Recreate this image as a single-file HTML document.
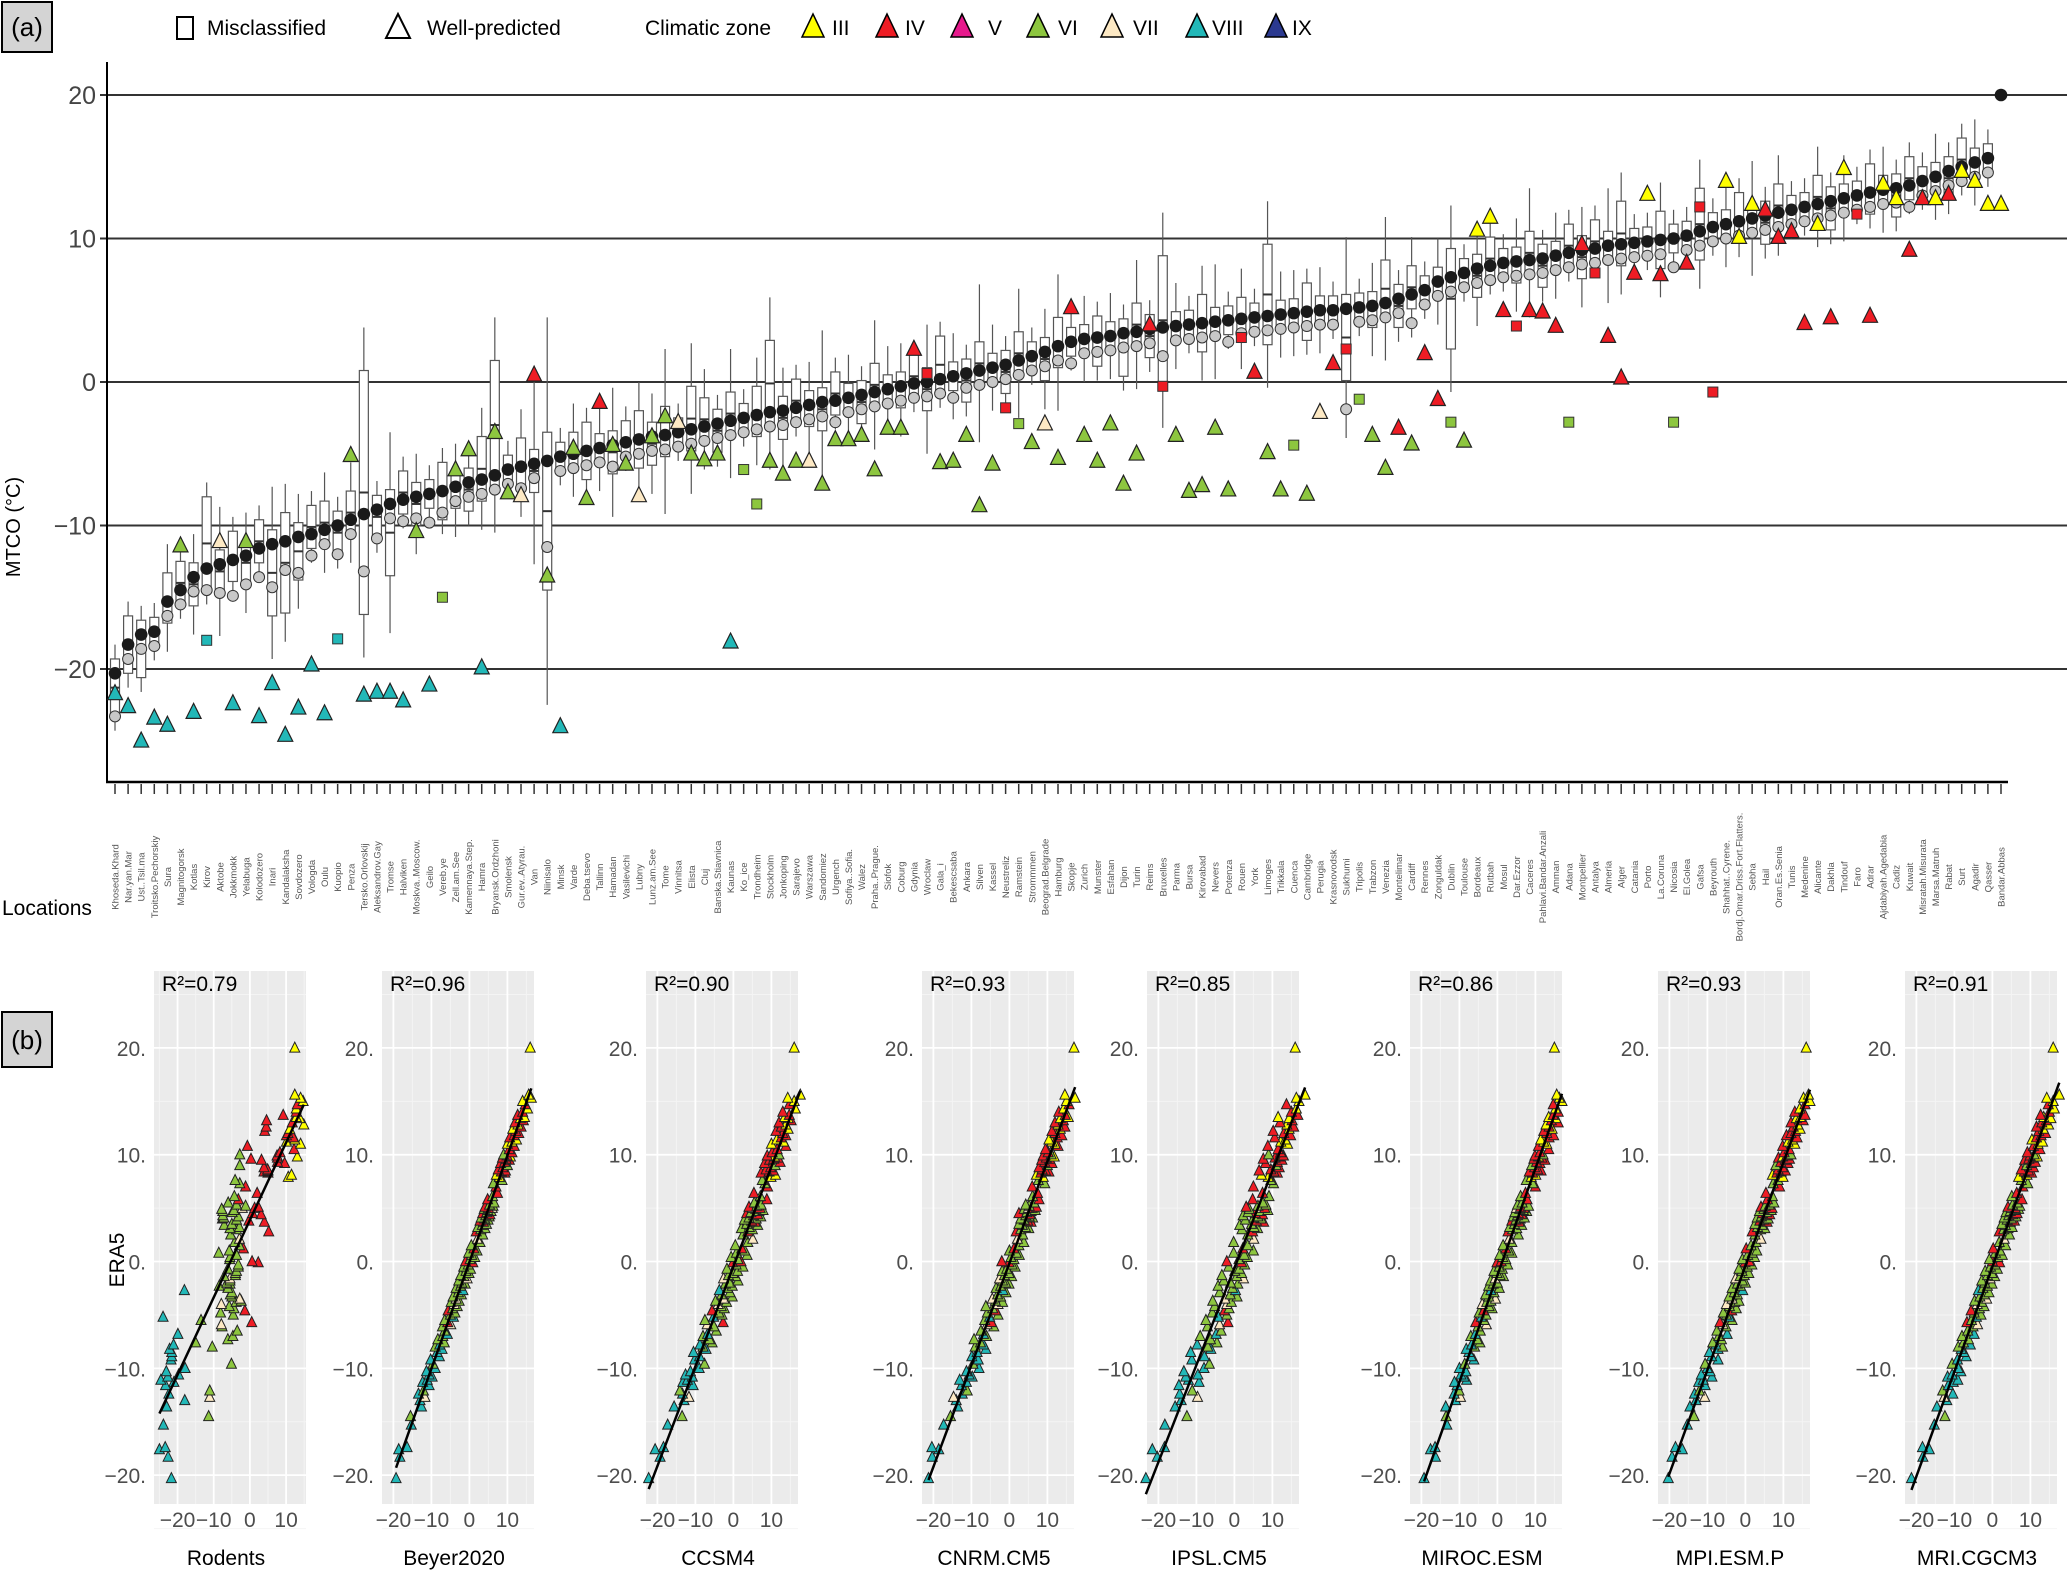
<!DOCTYPE html>
<html><head><meta charset="utf-8"><title>MTCO chart</title>
<style>
html,body{margin:0;padding:0;background:#fff;}
svg{display:block;font-family:"Liberation Sans",sans-serif;}
</style></head>
<body>
<svg id="chart" xmlns="http://www.w3.org/2000/svg" width="2067" height="1575" viewBox="0 0 2067 1575">
<rect x="0" y="0" width="2067" height="1575" fill="#fff"/>
<!-- panel a label box -->
<rect x="2" y="2" width="50" height="50" fill="#d4d4d4" stroke="#000" stroke-width="2"/>
<text x="27" y="36" font-size="26" text-anchor="middle">(a)</text>
<!-- legend -->
<g>
<rect x="177" y="17" width="16" height="22" fill="#fff" stroke="#000" stroke-width="2"/>
<text x="207" y="35" font-size="21">Misclassified</text>
<polygon points="398,14 386,38 410,38" fill="#fff" stroke="#000" stroke-width="2"/>
<text x="427" y="35" font-size="21">Well-predicted</text>
<text x="645" y="35" font-size="21">Climatic zone</text>
<polygon points="813,14 802,37 824,37" fill="#ffff00" stroke="#000" stroke-width="1.5"/>
<text x="832" y="35" font-size="21">III</text>
<polygon points="887,14 876,37 898,37" fill="#ee1c24" stroke="#000" stroke-width="1.5"/>
<text x="905" y="35" font-size="21">IV</text>
<polygon points="962,14 951,37 973,37" fill="#e6198c" stroke="#000" stroke-width="1.5"/>
<text x="988" y="35" font-size="21">V</text>
<polygon points="1038,14 1027,37 1049,37" fill="#8dc63f" stroke="#000" stroke-width="1.5"/>
<text x="1058" y="35" font-size="21">VI</text>
<polygon points="1112,14 1101,37 1123,37" fill="#fde9c4" stroke="#000" stroke-width="1.5"/>
<text x="1133" y="35" font-size="21">VII</text>
<polygon points="1197,14 1186,37 1208,37" fill="#22b8b8" stroke="#000" stroke-width="1.5"/>
<text x="1212" y="35" font-size="21">VIII</text>
<polygon points="1276,14 1265,37 1287,37" fill="#2b3990" stroke="#000" stroke-width="1.5"/>
<text x="1292" y="35" font-size="21">IX</text>
</g>
<text transform="translate(20,527) rotate(-90)" font-size="20" text-anchor="middle">MTCO (°C)</text>
<text x="2" y="915" font-size="21">Locations</text>
<!-- panel b label box -->
<rect x="2" y="1012" width="50" height="55" fill="#d4d4d4" stroke="#000" stroke-width="2"/>
<text x="27" y="1049" font-size="26" text-anchor="middle">(b)</text>
<text transform="translate(124,1260) rotate(-90)" font-size="21" text-anchor="middle">ERA5</text>
</svg>
<script>
// ---------- Panel (a) data ----------
const locations = ["Khoseda.Khard","Nar.yan.Mar","Ust..Tsil.ma","Troitsko.Pechorskiy","Sura","Magnitogorsk","Kotlas","Kirov","Aktobe","Jokkmokk","Yelabuga","Kolodozero","Inari","Kandalaksha","Sovdozero","Vologda","Oulu","Kuopio","Penza","Tersko.Orlovskij","Aleksandrov.Gay","Tromse","Halviken","Moskva..Moscow.","Geilo","Vereb.ye","Zell.am.See","Kamennaya.Step.","Hamra","Bryansk.Ordzhoni","Smolensk","Gur.ev..Atyrau.","Van","Niinisalo","Minsk","Varde","Deba.tsevo","Tallinn","Hamadan","Vasilevichi","Lubny","Lunz.am.See","Tome","Vinnitsa","Elista","Cluj","Banska.Stiavnica","Kaunas","Ko_ice","Trondheim","Stockholm","Jonkoping","Sarajevo","Warszawa","Sandomiez","Urgench","Sofiya..Sofia.","Walez","Praha..Prague.","Siofok","Coburg","Gdynia","Wroclaw","Gala_i","Bekescsaba","Ankara","Silven","Kassel","Neustreliz","Ramstein","Strommmen","Beograd.Belgrade","Hamburg","Skopje","Zurich","Munster","Esfahan","Dijon","Turin","Reims","Bruxelles","Parma","Bursa","Kirovabad","Nevers","Potenza","Rouen","York","Limoges","Trikkala","Cuenca","Cambridge","Perugia","Krasnovodsk","Sukhumi","Tripolis","Trabzon","Venezia","Montelimar","Cardiff","Rennes","Zonguldak","Dublin","Toulouse","Bordeaux","Rutbah","Mosul","Dar.Ezzor","Caceres","Pahlavi.Bandar.Anzali","Amman","Adana","Montpellier","Antalya","Almeria","Alger","Catania","Porto","La.Coruna","Nicosia","El.Golea","Gafsa","Beyrouth","Shahhat..Cyrene.","Bordj.Omar.Driss.Fort.Flatters.","Sebha","Hail","Oran.Es.Senia","Tunis","Medenine","Alicante","Dakhla","Tindouf","Faro","Adrar","Ajdabiyah.Agedabia","Cadiz","Kuwait","Misratah.Misurata","Marsa.Matruh","Rabat","Surt","Agadir","Qasser","Bandar.Abbas"];
const era5 = [-20.3,-18.3,-17.6,-17.4,-15.3,-14.5,-13.6,-13.0,-12.7,-12.4,-12.1,-11.6,-11.3,-11.1,-10.8,-10.6,-10.3,-10.0,-9.6,-9.2,-8.9,-8.5,-8.2,-8.0,-7.8,-7.6,-7.3,-7.0,-6.8,-6.5,-6.1,-5.9,-5.7,-5.5,-5.2,-5.0,-4.8,-4.6,-4.4,-4.2,-4.0,-3.8,-3.7,-3.5,-3.3,-3.1,-2.9,-2.7,-2.5,-2.3,-2.1,-2.0,-1.8,-1.6,-1.4,-1.3,-1.1,-0.9,-0.7,-0.5,-0.3,-0.1,0.0,0.2,0.4,0.6,0.8,1.0,1.2,1.5,1.8,2.1,2.5,2.8,3.0,3.1,3.2,3.4,3.5,3.7,3.8,3.9,4.0,4.1,4.2,4.3,4.4,4.5,4.6,4.7,4.8,4.9,5.0,5.0,5.1,5.2,5.3,5.5,5.8,6.1,6.4,7.0,7.3,7.6,7.9,8.1,8.3,8.4,8.5,8.6,8.8,9.0,9.2,9.3,9.5,9.6,9.7,9.8,9.9,10.0,10.2,10.5,10.8,11.0,11.2,11.4,11.6,11.8,12.0,12.2,12.4,12.6,12.8,13.0,13.2,13.4,13.5,13.7,14.0,14.3,14.7,15.0,15.3,15.6,20.0];
const boxBelow = [3,2,3,1,1.5,1,2,1.5,2,1.5, 2,1,5,5,3,1,1,2,1,7, 2,5,1,2,1,2,1.5,2,1.5,1, 1,1.5,2,9,1,1,2,1,2,1, 2,2,1.5,1,1.5,1,2,1,1,1.5, 1,2,1,1.5,2,1,1,2,1,1, 1.5,1,2,1,1,2,1,1,2,1, 1,2,1.5,1,1,2,1,3,1,2, 4,1,1,2,1,1,1.5,1,2,1, 1,2,1,1,5,1,1.5,1,2,1, 1,1,5,1,2,1,1,1.5,1,2, 1,1,2,1,1,1.5,1,1,2,1, 1,2,1,1,1.5,1,2,1,1,1, 1,2,1,1,1.5,1,2,1,1,1, 2,1,1,1,0];
const boxAbove = [1,2,1,1,2,2,1,5,1,2, 1,2,1,2,1,2,2,1,2,10, 1,1,2,1,1,2,1,1,3,8, 1,2,1,2,1,1.5,2,1,1,1.5, 2,1,2,1,3,2,1,2,1,2, 5,1,2,1,1,2,1,1,2,1, 1,2,1,3,1,1,2,1,1,2, 1,1,2,1,1,1.5,1,1,2,1, 5,1,1,2,1,1,1.5,1,5,1, 1,2,1,1,1,1,1,3,1,2, 1,1,2,1,1,2,1,1,2,1, 1,2,1,2,1,3,1,1,2,1, 1,3,1,1,2,1,1,2,1,1, 2,1,1,1,2,1,1,2,1,1, 1,2,1,1,0];
const whiskerLen = [1,1,1,1,2,1,2,1,3,1, 2,1,3,2,2,1,2,1,2,3, 1,4,1,2,1,1,2,1,2,3, 1,2,5,8,1,2,1,2,3,1, 2,2,4,1,3,2,1,3,1,2, 3,2,1,2,4,1,2,1,3,2, 2,1,3,1,2,1,4,2,1,3, 1,2,3,1,2,1,2,1,3,1, 3,2,1,2,3,1,2,1,3,2, 2,1,2,1,4,1,2,3,1,2, 1,2,3,1,2,1,1,2,3,1, 2,1,2,1,3,2,1,1,2,1, 1,2,1,2,1,3,1,2,1,1, 2,1,2,1,1,2,1,1,1,2, 1,1,2,1,0];
const grayOffset = [-3,-1,-1,-1,-1,-1,-1,-1.5,-2,-2.5, -2,-2,-3,-2,-2.5,-1.5,-1,-2,-1,-4, -2,-1,-1.5,-1.5,-2,-1.5,-1,-1,-1,-1, -1,-1.5,-1,-6,-1,-1,-1,-1,-1.5,-1, -1,-1,-1,-1,-1,-1,-1,-1,-1,-1, -1,-1,-1,-1,-1,-1.5,-1,-1,-1,-1, -1,-1,-1,-1,-1.5,-1,-1,-1,-1,-1, -1,-1,-1,-1.5,-1,-1,-1,-1,-1,-1, -2,-1,-1,-1,-1,-1.5,-1,-1,-1,-1, -1,-1,-1,-1,-7,-1,-1,-1,-1,-2, -1,-1,-1,-1,-1,-1,-1,-1,-1,-1, -1,-1,-1,-1,-1,-1,-1,-1,-1,-2, -1,-1,-1,-1,-1,-1,-1,-1,-1,-1, -1,-1,-1,-1,-1,-1,-1,-1.5,-1,-1, -1,-1,-1,-1,-1,-1,-1,-1,-1,-1, -1,-1,-1,-1,0];
const predicted = [-21.7,-22.6,-25,-23.4,-23.9,-11.4,-23,-18,-11.1,-22.4, -11.1,-23.3,-21,-24.6,-22.7,-19.7,-23.1,-17.9,-5.1,-21.8, -21.6,-21.6,-22.2,-10.4,-21.1,-15,-6.1,-4.7,-19.9,-3.5, -7.7,-7.9,0.5,-13.5,-24,-4.6,-8.1,-1.4,-4.4,-5.7, -7.9,-3.8,-2.4,-2.8,-5,-5.4,-5,-18.1,-6.1,-8.5, -5.5,-6.4,-5.5,-5.5,-7.1,-4,-4,-3.7,-6.1,-3.2, -3.2,2.3,0.6,-5.6,-5.5,-3.7,-8.6,-5.7,-1.8,-2.9, -4.2,-2.9,-5.3,5.2,-3.7,-5.5,-2.9,-7.1,-5,4, -0.3,-3.7,-7.6,-7.2,-3.2,-7.5,3.1,0.7,-4.9,-7.5, -4.4,-7.8,-2.1,1.3,2.3,-1.2,-3.7,-6,-3.2,-4.3, 2,-1.2,-2.8,-4.1,10.6,11.5,5,3.9,5,4.9, 3.9,-2.8,9.6,7.6,3.2,0.3,7.6,13.1,7.5,-2.8, 8.3,12.2,-0.7,14,10.1,12.4,12,10.1,10.5,4.1, 11,4.5,14.9,11.7,4.6,13.8,12.8,9.2,12.8,12.8, 13.1,14.7,14,12.4,12.4];
const zones = ["VIII","VIII","VIII","VIII","VIII","VI","VIII","VIII","VII","VIII", "VI","VIII","VIII","VIII","VIII","VIII","VIII","VIII","VI","VIII", "VIII","VIII","VIII","VI","VIII","VI","VI","VI","VIII","VI", "VI","VII","IV","VI","VIII","VI","VI","IV","VI","VI", "VII","VI","VI","VII","VI","VI","VI","VIII","VI","VI", "VI","VI","VI","VII","VI","VI","VI","VI","VI","VI", "VI","IV","IV","VI","VI","VI","VI","VI","IV","VI", "VI","VII","VI","IV","VI","VI","VI","VI","VI","IV", "IV","VI","VI","VI","VI","VI","IV","IV","VI","VI", "VI","VI","VII","IV","IV","VI","VI","VI","IV","VI", "IV","IV","VI","VI","III","III","IV","IV","IV","IV", "IV","VI","IV","IV","IV","IV","IV","III","IV","VI", "IV","IV","IV","III","III","III","IV","IV","IV","IV", "III","IV","III","IV","IV","III","III","IV","IV","III", "IV","III","III","III","III"];
const misclassified = [7,17,25,48,49,62,68,69,80,86,90,94,95,102,107,111,113,119,121,122,133];
const yTicksA = [20,10,0,-10,-20];
const zoneColors = {III:"#ffff00",IV:"#ee1c24",V:"#e6198c",VI:"#8dc63f",VII:"#fde9c4",VIII:"#22b8b8",IX:"#2b3990"};

// ---------- Panel (b) data ----------
const models = ["Rodents","Beyer2020","CCSM4","CNRM.CM5","IPSL.CM5","MIROC.ESM","MPI.ESM.P","MRI.CGCM3"];
const r2Values = ["0.79","0.96","0.90","0.93","0.85","0.86","0.93","0.91"];
const devBeyer = [1,0,-1,1,0,-1,1,0,1,-1, 0,1,-1,0,1,0,-1,1,0,-1, 1,0,1,-1,0,1,-1,0,1,0, -1,1,0,-1,1,0,1,-1,0,1, 0,-1,1,0,-1,1,0,1,-1,0, 1,0,-1,1,0,-1,1,0,1,-1, 0,1,-1,0,1,0,-1,1,0,-1, 1,0,1,-1,0,1,-1,0,1,0, -1,1,0,-1,1,0,1,-1,0,1, 0,-1,1,0,-1,1,0,1,-1,0, 1,0,-1,1,0,-1,1,0,1,-1, 0,1,-1,0,1,0,-1,1,0,-1, 1,0,1,-1,0,1,-1,0,1,0, -1,1,0,-1,1,0,1,-1,0,1, 0,-1,1,0,-4];
const devCCSM4 = [-2,-1,-3,-1,-2,1,-2,0,1,-1, -2,1,-2,-1,0,-2,-1,1,2,-1, 0,-2,1,0,-1,2,1,-1,0,2, 1,-1,3,-2,0,2,1,-1,2,1, 0,2,-1,1,3,0,2,-1,1,2, 0,1,3,-1,2,0,1,2,-1,3, 1,0,2,1,-1,3,0,2,1,-1, 2,3,0,1,2,-1,1,3,0,2, 1,-1,2,0,3,1,2,-1,0,2, 3,1,0,2,-1,1,2,0,3,1, -1,2,1,0,2,3,-1,1,2,0, 1,2,-1,3,0,1,2,1,-1,2, 0,1,3,-1,2,0,1,2,1,-1, 2,0,1,-1,2,1,0,1,-1,2, 0,1,-1,2,-4];
const devCNRM = [-1,-2,-1,-3,-2,-1,0,-1,-2,0, 1,-1,0,-2,1,0,-1,2,0,1, -1,0,2,-1,1,0,-2,1,0,-1, 2,0,1,-1,0,2,-1,1,0,-2, 1,2,0,-1,1,0,2,1,-1,0, 2,1,0,-1,2,0,1,-1,0,2, 1,0,-2,1,0,2,1,-1,0,1, 2,0,1,-1,0,2,1,0,-1,2, 1,0,-1,2,1,0,1,-2,0,1, 2,-1,0,1,2,0,-1,1,2,0, 1,-1,2,0,1,-1,0,2,1,0, -1,1,2,0,-1,1,0,2,-1,1, 0,-1,2,1,0,-1,1,2,0,-1, 1,2,0,-1,1,0,2,1,-1,0, 1,0,2,-1,-3];
const devIPSL = [-3,-2,-4,-1,-3,2,-2,-1,3,-2, 1,-3,2,-1,-2,1,-3,2,3,-2, 1,-3,2,1,-2,3,1,-2,2,3, -1,2,4,-2,1,3,-1,2,3,-1, 2,3,-2,1,4,2,-1,3,2,-2, 3,1,-1,4,2,-2,3,1,2,-1, 3,2,-2,1,3,2,-1,4,1,2, -2,3,1,2,-1,3,2,-2,1,4, 2,-1,3,1,2,-2,3,1,-1,2, 4,-1,2,3,-2,1,3,2,-1,3, 1,-2,3,2,1,-1,3,2,-2,1, 3,2,-1,2,3,-2,1,2,3,-1, 2,1,-2,3,1,2,-1,3,1,-2, 2,3,1,-1,2,1,-2,3,1,2, -1,2,1,3,-4];
const devMIROC = [1,2,0,1,2,1,0,2,3,1, 2,1,0,3,2,1,2,0,1,3, 2,1,0,2,1,3,2,0,1,2, 1,3,0,2,1,2,0,1,3,2, 0,1,2,3,1,0,2,1,3,0, 1,2,0,1,3,2,1,0,2,1, 3,0,1,2,1,0,3,2,1,0, 2,1,3,0,1,2,0,3,1,2, 0,1,2,3,0,1,2,1,0,3, 2,1,0,2,1,3,0,1,2,0, 1,3,2,0,1,2,1,0,3,2, 1,0,2,1,3,0,2,1,0,2, 1,3,0,2,1,0,2,3,1,0, 2,1,0,3,1,2,0,1,2,1, 0,2,1,0,-5];
const devMPI = [0,-1,1,-1,0,1,-1,0,2,-1, 0,1,-1,0,2,-1,1,0,-1,2, 0,-1,1,2,0,-1,1,0,2,-1, 1,0,-1,2,1,0,-1,1,2,0, -1,1,2,0,-1,1,0,2,-1,1, 0,2,1,-1,0,1,2,0,-1,1, 2,0,1,-1,2,0,1,2,-1,0, 1,2,0,-1,1,2,0,1,-1,2, 0,1,2,-1,0,1,2,0,1,-1, 2,0,1,2,-1,0,1,2,0,1, -1,2,0,1,2,-1,0,1,2,0, 1,-1,2,0,1,2,-1,0,1,2, 0,1,-1,2,0,1,2,-1,0,1, 2,0,1,-1,2,0,1,2,-1,0, 1,2,0,1,-4];
const devMRI = [-1,0,1,-1,0,2,-1,1,0,2, -1,0,1,2,-1,0,2,1,-1,0, 2,1,0,-1,2,0,1,-1,2,0, 1,2,-1,0,1,2,0,-1,1,2, 0,1,-1,2,0,1,2,-1,0,1, 2,0,-1,1,2,0,1,-1,2,0, 1,2,0,-1,1,2,0,1,-1,2, 0,1,2,-1,0,1,2,0,-1,1, 2,0,1,-1,2,0,1,2,-1,0, 1,2,0,1,-1,2,0,1,2,-1, 0,1,2,0,-1,1,2,0,1,-1, 2,0,1,2,-1,0,1,2,0,1, -1,2,0,1,2,-1,0,1,2,0, 1,-1,2,0,1,2,0,-1,1,2, 0,1,-1,2,-4];
const xTicksB = [-20,-10,0,10];
const yTicksB = [20,10,0,-10,-20];

// ---------- rendering ----------
const NS = "http://www.w3.org/2000/svg";
const svg = document.getElementById("chart");
function mk(tag, attrs, parent) {
  const e = document.createElementNS(NS, tag);
  for (const k in attrs) e.setAttribute(k, attrs[k]);
  (parent || svg).appendChild(e);
  return e;
}
function triPts(cx, cy, s) {
  return (cx) + "," + (cy - s * 0.58) + " " + (cx - s / 2) + "," + (cy + s * 0.42) + " " + (cx + s / 2) + "," + (cy + s * 0.42);
}

// Panel a scales
const N = era5.length;
const xA = i => 115 + i * (2001 - 115) / (N - 1);
const yA = v => 382 - v * 14.35;

const gA = mk("g", {});



yTicksA.forEach(t => {
  const gl = mk("line", {x1: 107, x2: 2067, y1: yA(t), y2: yA(t), stroke: "#333", "stroke-width": 2}, gA);
  
  
  const tk = mk("line", {x1: 100, x2: 107, y1: yA(t), y2: yA(t), stroke: "#333", "stroke-width": 2}, gA);
  
  
  const lb = mk("text", {x: 96, y: yA(t) + 9, "font-size": 25, "text-anchor": "end", fill: "#444"}, gA);
  lb.textContent = t < 0 ? "\u2212" + Math.abs(t) : String(t);
  
  
});
const yAxis = mk("line", {x1: 107, x2: 107, y1: 62, y2: 783, stroke: "#000", "stroke-width": 2}, gA);


const xAxis = mk("line", {x1: 106, x2: 2008, y1: 782, y2: 782, stroke: "#000", "stroke-width": 2.5}, gA);



for (let i = 0; i < N; i++) {
  const x = xA(i), e = era5[i];
  const q1 = e - boxBelow[i], q3 = e + boxAbove[i];
  const w = whiskerLen[i];
  const tk = mk("line", {x1: x, x2: x, y1: 784, y2: 794, stroke: "#333", "stroke-width": 1.5}, gA);
  
  
  const lb = mk("text", {transform: "translate(" + (x + 3.5) + ",877) rotate(-90)", "font-size": 9.5, "text-anchor": "middle", fill: "#555"}, gA);
  lb.textContent = locations[i] || "";
  
  
  if (boxBelow[i] + boxAbove[i] > 0) {
    const wh = mk("line", {x1: x, x2: x, y1: yA(q3 + w), y2: yA(q1 - w), stroke: "#555", "stroke-width": 1.2}, gA);
    
    
    const bx = mk("rect", {x: x - 4.5, y: yA(q3), width: 9, height: yA(q1) - yA(q3), fill: "#fff", stroke: "#555", "stroke-width": 1.2}, gA);
    
    
    const md = mk("line", {x1: x - 4.5, x2: x + 4.5, y1: yA((q1 + q3) / 2), y2: yA((q1 + q3) / 2), stroke: "#333", "stroke-width": 2}, gA);
    
    
  }
}
for (let i = 0; i < N; i++) {
  const x = xA(i);
  if (i < N - 1) {
    const gc = mk("circle", {cx: x, cy: yA(era5[i] + grayOffset[i]), r: 5.5, fill: "#c8c8c8", stroke: "#333", "stroke-width": 1}, gA);
    
    
  }
  const bd = mk("circle", {cx: x, cy: yA(era5[i]), r: 6.3, fill: "#1a1a1a"}, gA);
  
  
}
for (let i = 0; i < N; i++) {
  const x = xA(i), v = predicted[i];
  if (v === undefined || v === null) continue;
  const col = zoneColors[zones[i]] || "#888";
  if (misclassified.indexOf(i) >= 0) {
    const sq = mk("rect", {x: x - 5, y: yA(v) - 5, width: 10, height: 10, fill: col, stroke: "#333", "stroke-width": 1}, gA);
    
    
  } else {
    const tr = mk("polygon", {points: triPts(x, yA(v), 15), fill: col, stroke: "#222", "stroke-width": 1.2}, gA);
    
    
  }
}

// Panel b
const panelLefts = [154, 382, 646, 922, 1147, 1410, 1658, 1905];
const PW = 152, PT = 971, PB = 1504;
const devs = [null, devBeyer, devCCSM4, devCNRM, devIPSL, devMIROC, devMPI, devMRI];
const yB = v => PT + (27.2 - v) / 49.9 * (PB - PT);

models.forEach((name, p) => {
  const L = panelLefts[p];
  const xmin = p === 0 ? -26.5 : -23, xmax = p === 0 ? 15.5 : 17;
  const xB = v => L + (v - xmin) / (xmax - xmin) * PW;
  const g = mk("g", {});
  
  
  const bg = mk("rect", {x: L, y: PT, width: PW, height: PB - PT, fill: "#ebebeb"}, g);
  
  
  // minor gridlines
  [-25, -15, -5, 5, 15, 25].forEach(t => {
    const l = mk("line", {x1: L, x2: L + PW, y1: yB(t), y2: yB(t), stroke: "#f4f4f4", "stroke-width": 1}, g);
    
    
  });
  [-25, -15, -5, 5, 15].forEach(t => {
    if (t < xmin || t > xmax) return;
    const l = mk("line", {x1: xB(t), x2: xB(t), y1: PT, y2: PB, stroke: "#f4f4f4", "stroke-width": 1}, g);
    
    
  });
  yTicksB.forEach(t => {
    const l = mk("line", {x1: L, x2: L + PW, y1: yB(t), y2: yB(t), stroke: "#fff", "stroke-width": 1.8}, g);
    
    
    const lb = mk("text", {x: L - 8, y: yB(t) + 8, "font-size": 21, "text-anchor": "end", fill: "#4d4d4d"}, g);
    lb.textContent = (t < 0 ? "\u2212" + Math.abs(t) : String(t)) + ".";
    
    
  });
  xTicksB.forEach(t => {
    const l = mk("line", {x1: xB(t), x2: xB(t), y1: PT, y2: PB, stroke: "#fff", "stroke-width": 1.8}, g);
    
    
    const lb = mk("text", {x: xB(t), y: 1527, "font-size": 21, "text-anchor": "middle", fill: "#4d4d4d"}, g);
    lb.textContent = t < 0 ? "\u2212" + Math.abs(t) : String(t);
    
    
  });
  const r2 = mk("text", {x: L + 8, y: 991, "font-size": 21, fill: "#000"}, g);
  r2.textContent = "R\u00b2=" + r2Values[p];
  
  
  const mn = mk("text", {x: L + PW / 2 - 4, y: 1565, "font-size": 21, "text-anchor": "middle", fill: "#000"}, g);
  mn.textContent = name;
  
  

  // points
  const xs = [], ys = [];
  for (let i = 0; i < N; i++) {
    let xv;
    if (p === 0) xv = predicted[i];
    else xv = era5[i] + (devs[p][i] || 0);
    xs.push(xv); ys.push(era5[i]);
  }
  // regression line
  const n = xs.length;
  const mx = xs.reduce((a, b) => a + b, 0) / n, my = ys.reduce((a, b) => a + b, 0) / n;
  let sxy = 0, sxx = 0;
  for (let i = 0; i < n; i++) { sxy += (xs[i] - mx) * (ys[i] - my); sxx += (xs[i] - mx) * (xs[i] - mx); }
  const slope = sxy / sxx, icpt = my - slope * mx;
  const x0 = Math.min.apply(null, xs), x1 = Math.max.apply(null, xs);
  for (let i = 0; i < n; i++) {
    const col = zoneColors[zones[i]] || "#888";
    const tr = mk("polygon", {points: triPts(xB(xs[i]), yB(ys[i]), 10), fill: col, stroke: "#222", "stroke-width": 1}, g);
    
    
  }
  const rl = mk("line", {x1: xB(x0), y1: yB(icpt + slope * x0), x2: xB(x1), y2: yB(icpt + slope * x1), stroke: "#000", "stroke-width": 2.5}, g);
  
  
});
</script>
</body></html>
